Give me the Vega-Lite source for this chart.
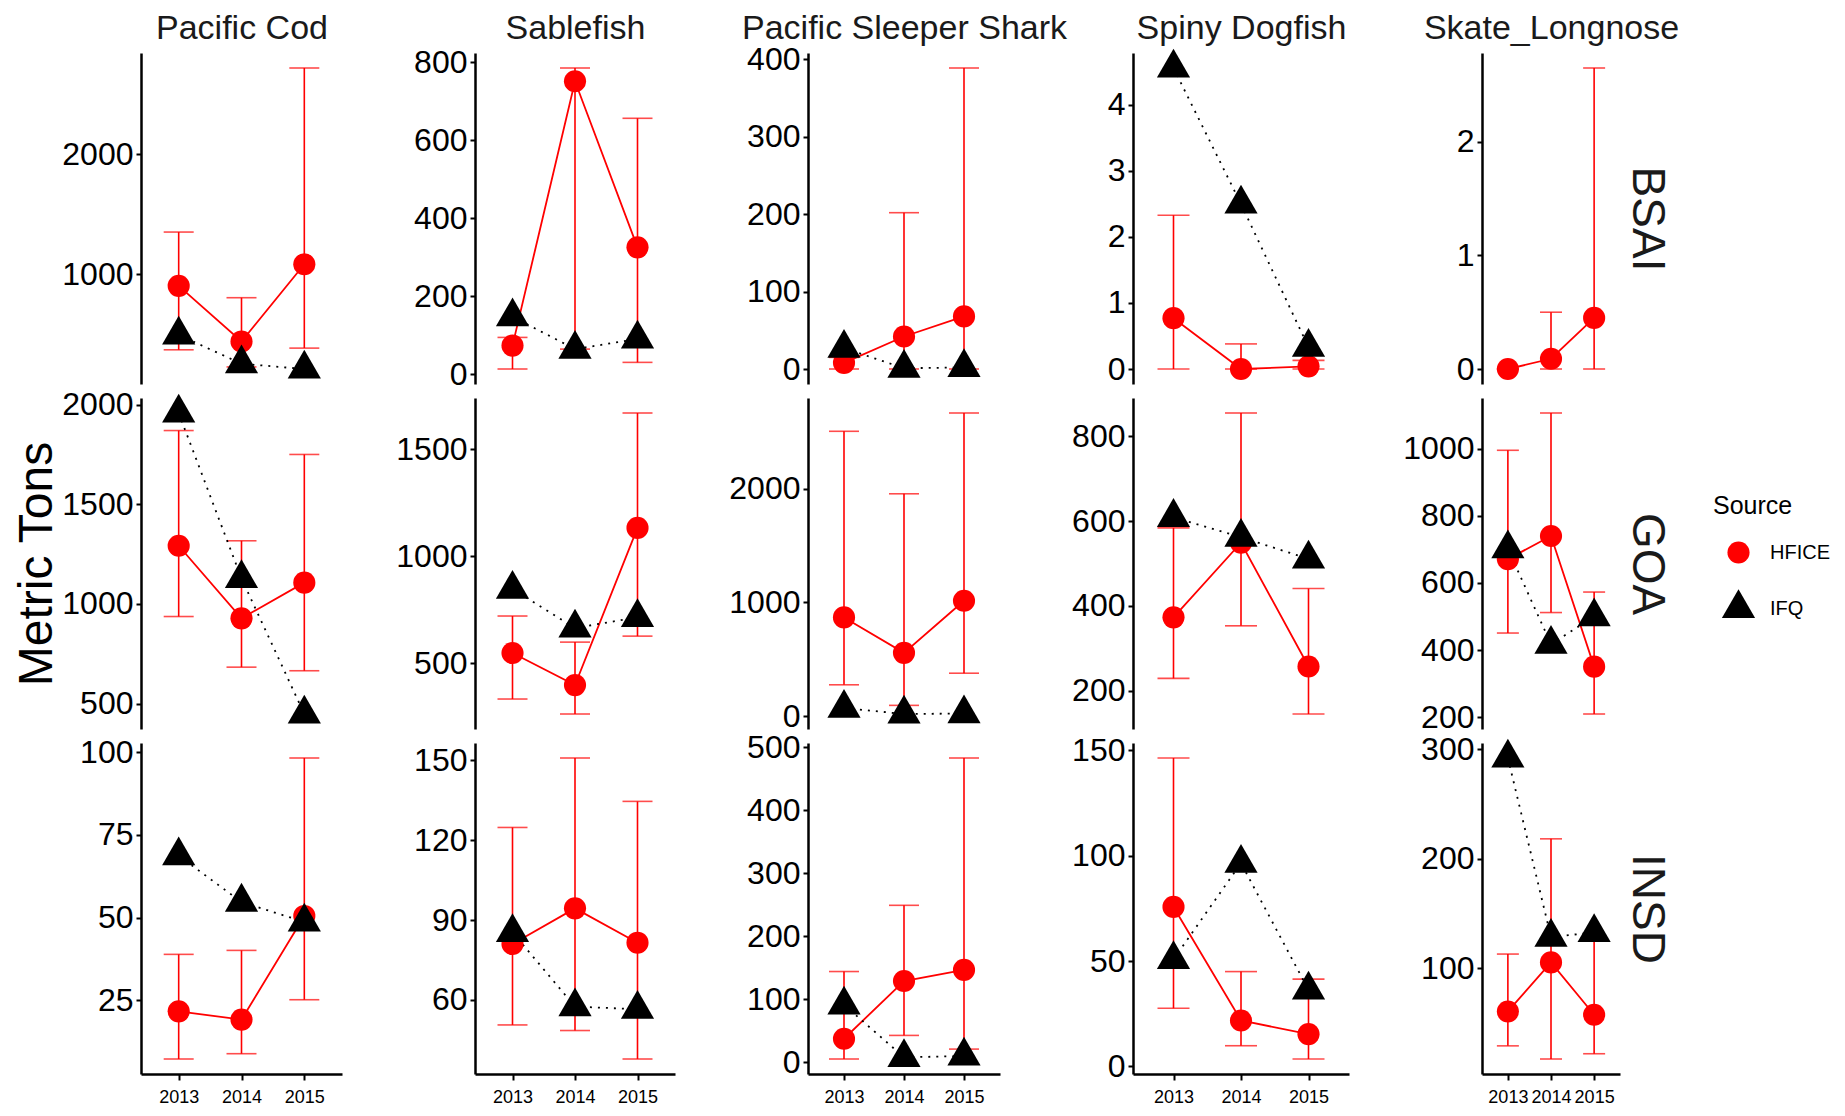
{
"$schema": "https://vega.github.io/schema/vega-lite/v6.json",
"background": "white",
"padding": {"left": 13, "top": 11, "right": 5, "bottom": 5},
"data": {"values": [
{"region":"BSAI","species":"Pacific Cod","year":"2013","source":"HFICE","value":903,"lower":370,"upper":1351},
{"region":"BSAI","species":"Pacific Cod","year":"2014","source":"HFICE","value":439,"lower":227,"upper":804},
{"region":"BSAI","species":"Pacific Cod","year":"2015","source":"HFICE","value":1083,"lower":384,"upper":2718},
{"region":"BSAI","species":"Pacific Cod","year":"2013","source":"IFQ","value":494},
{"region":"BSAI","species":"Pacific Cod","year":"2014","source":"IFQ","value":254},
{"region":"BSAI","species":"Pacific Cod","year":"2015","source":"IFQ","value":210},
{"region":"BSAI","species":"Sablefish","year":"2013","source":"HFICE","value":73,"lower":13,"upper":94},
{"region":"BSAI","species":"Sablefish","year":"2014","source":"HFICE","value":751,"lower":64,"upper":785},
{"region":"BSAI","species":"Sablefish","year":"2015","source":"HFICE","value":325,"lower":30,"upper":656},
{"region":"BSAI","species":"Sablefish","year":"2013","source":"IFQ","value":147},
{"region":"BSAI","species":"Sablefish","year":"2014","source":"IFQ","value":64},
{"region":"BSAI","species":"Sablefish","year":"2015","source":"IFQ","value":90},
{"region":"BSAI","species":"Pacific Sleeper Shark","year":"2013","source":"HFICE","value":8,"lower":0,"upper":15},
{"region":"BSAI","species":"Pacific Sleeper Shark","year":"2014","source":"HFICE","value":42,"lower":0,"upper":202},
{"region":"BSAI","species":"Pacific Sleeper Shark","year":"2015","source":"HFICE","value":68,"lower":0,"upper":389},
{"region":"BSAI","species":"Pacific Sleeper Shark","year":"2013","source":"IFQ","value":27},
{"region":"BSAI","species":"Pacific Sleeper Shark","year":"2014","source":"IFQ","value":1},
{"region":"BSAI","species":"Pacific Sleeper Shark","year":"2015","source":"IFQ","value":2},
{"region":"BSAI","species":"Spiny Dogfish","year":"2013","source":"HFICE","value":0.77,"lower":0,"upper":2.33},
{"region":"BSAI","species":"Spiny Dogfish","year":"2014","source":"HFICE","value":0,"lower":0,"upper":0.38},
{"region":"BSAI","species":"Spiny Dogfish","year":"2015","source":"HFICE","value":0.04,"lower":0,"upper":0.13},
{"region":"BSAI","species":"Spiny Dogfish","year":"2013","source":"IFQ","value":4.56},
{"region":"BSAI","species":"Spiny Dogfish","year":"2014","source":"IFQ","value":2.5},
{"region":"BSAI","species":"Spiny Dogfish","year":"2015","source":"IFQ","value":0.33},
{"region":"BSAI","species":"Skate_Longnose","year":"2013","source":"HFICE","value":0,"lower":0,"upper":0},
{"region":"BSAI","species":"Skate_Longnose","year":"2014","source":"HFICE","value":0.09,"lower":0,"upper":0.5},
{"region":"BSAI","species":"Skate_Longnose","year":"2015","source":"HFICE","value":0.45,"lower":0,"upper":2.65},
{"region":"GOA","species":"Pacific Cod","year":"2013","source":"HFICE","value":1292,"lower":937,"upper":1870},
{"region":"GOA","species":"Pacific Cod","year":"2014","source":"HFICE","value":928,"lower":683,"upper":1317},
{"region":"GOA","species":"Pacific Cod","year":"2015","source":"HFICE","value":1107,"lower":665,"upper":1750},
{"region":"GOA","species":"Pacific Cod","year":"2013","source":"IFQ","value":1958},
{"region":"GOA","species":"Pacific Cod","year":"2014","source":"IFQ","value":1128},
{"region":"GOA","species":"Pacific Cod","year":"2015","source":"IFQ","value":448},
{"region":"GOA","species":"Sablefish","year":"2013","source":"HFICE","value":547,"lower":332,"upper":720},
{"region":"GOA","species":"Sablefish","year":"2014","source":"HFICE","value":397,"lower":262,"upper":598},
{"region":"GOA","species":"Sablefish","year":"2015","source":"HFICE","value":1132,"lower":626,"upper":1669},
{"region":"GOA","species":"Sablefish","year":"2013","source":"IFQ","value":846},
{"region":"GOA","species":"Sablefish","year":"2014","source":"IFQ","value":664},
{"region":"GOA","species":"Sablefish","year":"2015","source":"IFQ","value":714},
{"region":"GOA","species":"Pacific Sleeper Shark","year":"2013","source":"HFICE","value":868,"lower":275,"upper":2506},
{"region":"GOA","species":"Pacific Sleeper Shark","year":"2014","source":"HFICE","value":556,"lower":94,"upper":1956},
{"region":"GOA","species":"Pacific Sleeper Shark","year":"2015","source":"HFICE","value":1015,"lower":377,"upper":2667},
{"region":"GOA","species":"Pacific Sleeper Shark","year":"2013","source":"IFQ","value":70},
{"region":"GOA","species":"Pacific Sleeper Shark","year":"2014","source":"IFQ","value":18},
{"region":"GOA","species":"Pacific Sleeper Shark","year":"2015","source":"IFQ","value":22},
{"region":"GOA","species":"Spiny Dogfish","year":"2013","source":"HFICE","value":373,"lower":229,"upper":584},
{"region":"GOA","species":"Spiny Dogfish","year":"2014","source":"HFICE","value":549,"lower":353,"upper":855},
{"region":"GOA","species":"Spiny Dogfish","year":"2015","source":"HFICE","value":257,"lower":145,"upper":441},
{"region":"GOA","species":"Spiny Dogfish","year":"2013","source":"IFQ","value":609},
{"region":"GOA","species":"Spiny Dogfish","year":"2014","source":"IFQ","value":562},
{"region":"GOA","species":"Spiny Dogfish","year":"2015","source":"IFQ","value":511},
{"region":"GOA","species":"Skate_Longnose","year":"2013","source":"HFICE","value":671,"lower":451,"upper":995},
{"region":"GOA","species":"Skate_Longnose","year":"2014","source":"HFICE","value":740,"lower":512,"upper":1106},
{"region":"GOA","species":"Skate_Longnose","year":"2015","source":"HFICE","value":351,"lower":210,"upper":573},
{"region":"GOA","species":"Skate_Longnose","year":"2013","source":"IFQ","value":702},
{"region":"GOA","species":"Skate_Longnose","year":"2014","source":"IFQ","value":418},
{"region":"GOA","species":"Skate_Longnose","year":"2015","source":"IFQ","value":500},
{"region":"INSD","species":"Pacific Cod","year":"2013","source":"HFICE","value":21.7,"lower":7.3,"upper":38.9},
{"region":"INSD","species":"Pacific Cod","year":"2014","source":"HFICE","value":19.2,"lower":8.9,"upper":40.1},
{"region":"INSD","species":"Pacific Cod","year":"2015","source":"HFICE","value":50.5,"lower":25.2,"upper":98.2},
{"region":"INSD","species":"Pacific Cod","year":"2013","source":"IFQ","value":68.7},
{"region":"INSD","species":"Pacific Cod","year":"2014","source":"IFQ","value":54.7},
{"region":"INSD","species":"Pacific Cod","year":"2015","source":"IFQ","value":48.7},
{"region":"INSD","species":"Sablefish","year":"2013","source":"HFICE","value":81,"lower":50.6,"upper":124.8},
{"region":"INSD","species":"Sablefish","year":"2014","source":"HFICE","value":94.4,"lower":48.5,"upper":150.9},
{"region":"INSD","species":"Sablefish","year":"2015","source":"HFICE","value":81.5,"lower":37.8,"upper":134.6},
{"region":"INSD","species":"Sablefish","year":"2013","source":"IFQ","value":85.4},
{"region":"INSD","species":"Sablefish","year":"2014","source":"IFQ","value":57.5},
{"region":"INSD","species":"Sablefish","year":"2015","source":"IFQ","value":56.5},
{"region":"INSD","species":"Pacific Sleeper Shark","year":"2013","source":"HFICE","value":37.4,"lower":5.3,"upper":144},
{"region":"INSD","species":"Pacific Sleeper Shark","year":"2014","source":"HFICE","value":129,"lower":42.7,"upper":249},
{"region":"INSD","species":"Pacific Sleeper Shark","year":"2015","source":"HFICE","value":146.6,"lower":21,"upper":482.6},
{"region":"INSD","species":"Pacific Sleeper Shark","year":"2013","source":"IFQ","value":91.2},
{"region":"INSD","species":"Pacific Sleeper Shark","year":"2014","source":"IFQ","value":8},
{"region":"INSD","species":"Pacific Sleeper Shark","year":"2015","source":"IFQ","value":10},
{"region":"INSD","species":"Spiny Dogfish","year":"2013","source":"HFICE","value":75.7,"lower":27.6,"upper":146.4},
{"region":"INSD","species":"Spiny Dogfish","year":"2014","source":"HFICE","value":21.8,"lower":9.8,"upper":45},
{"region":"INSD","species":"Spiny Dogfish","year":"2015","source":"HFICE","value":15.3,"lower":3.5,"upper":41.4},
{"region":"INSD","species":"Spiny Dogfish","year":"2013","source":"IFQ","value":50.8},
{"region":"INSD","species":"Spiny Dogfish","year":"2014","source":"IFQ","value":96.5},
{"region":"INSD","species":"Spiny Dogfish","year":"2015","source":"IFQ","value":36.3},
{"region":"INSD","species":"Skate_Longnose","year":"2013","source":"HFICE","value":60.4,"lower":29,"upper":112.8},
{"region":"INSD","species":"Skate_Longnose","year":"2014","source":"HFICE","value":105.2,"lower":17,"upper":218},
{"region":"INSD","species":"Skate_Longnose","year":"2015","source":"HFICE","value":57.4,"lower":21.8,"upper":125.9},
{"region":"INSD","species":"Skate_Longnose","year":"2013","source":"IFQ","value":291.8},
{"region":"INSD","species":"Skate_Longnose","year":"2014","source":"IFQ","value":128.3},
{"region":"INSD","species":"Skate_Longnose","year":"2015","source":"IFQ","value":132.6}
]},
"columns": 5,
"bounds": "flush",
"align": "each",
"spacing": {"row": 14, "column": 133},
"concat": [
{"width": 201, "height": 331,
 "transform": [{"filter": "datum.region == 'BSAI' && datum.species == 'Pacific Cod'"}],
 "encoding": {"x": {"field": "year", "type": "ordinal", "scale": {"type": "point", "padding": 0.6}, "axis": {"orient": "top", "title": "Pacific Cod", "labels": false, "ticks": false, "domain": false, "titleFontSize": 34, "titlePadding": 15, "titleBaseline": "alphabetic", "titleColor": "#1a1a1a"}}},
 "resolve": {"axis": {"y": "independent"}},
 "layer": [
  {"mark": {"type": "rule", "color": "#FF0000", "strokeWidth": 1.6}, "encoding": {"y": {"field": "lower", "type": "quantitative", "scale": {"zero": false, "nice": false, "padding": 15}, "axis": {"values": [1000, 2000], "title": null, "format": "d"}}, "y2": {"field": "upper"}}},
  {"mark": {"type": "tick", "color": "#FF0000", "thickness": 1.6, "size": 30}, "encoding": {"y": {"field": "lower", "type": "quantitative", "axis": null}}},
  {"mark": {"type": "tick", "color": "#FF0000", "thickness": 1.6, "size": 30}, "encoding": {"y": {"field": "upper", "type": "quantitative", "axis": null}}},
  {"transform": [{"filter": "datum.source == 'HFICE'"}], "mark": {"type": "line", "color": "#FF0000", "strokeWidth": 1.8}, "encoding": {"y": {"field": "value", "type": "quantitative", "axis": null}}},
  {"transform": [{"filter": "datum.source == 'IFQ'"}], "mark": {"type": "line", "color": "#000000", "strokeWidth": 1.8, "strokeDash": [2, 6]}, "encoding": {"y": {"field": "value", "type": "quantitative", "axis": null}}},
  {"mark": {"type": "point", "filled": true, "size": 490, "opacity": 1}, "encoding": {"y": {"field": "value", "type": "quantitative", "axis": null}, "color": {"field": "source", "type": "nominal", "title": "Source", "scale": {"domain": ["HFICE", "IFQ"], "range": ["#FF0000", "#000000"]}, "legend": {"orient": "none", "legendX": 1572, "legendY": 441}}, "shape": {"field": "source", "type": "nominal", "title": "Source", "scale": {"domain": ["HFICE", "IFQ"], "range": ["circle", "M0,-1.732L1.5,0.866L-1.5,0.866Z"]}, "legend": {"orient": "none", "legendX": 1572, "legendY": 441}}}}
 ]},
{"width": 200, "height": 331,
 "transform": [{"filter": "datum.region == 'BSAI' && datum.species == 'Sablefish'"}],
 "encoding": {"x": {"field": "year", "type": "ordinal", "scale": {"type": "point", "padding": 0.6}, "axis": {"orient": "top", "title": "Sablefish", "labels": false, "ticks": false, "domain": false, "titleFontSize": 34, "titlePadding": 15, "titleBaseline": "alphabetic", "titleColor": "#1a1a1a"}}},
 "resolve": {"axis": {"y": "independent"}},
 "layer": [
  {"mark": {"type": "rule", "color": "#FF0000", "strokeWidth": 1.6}, "encoding": {"y": {"field": "lower", "type": "quantitative", "scale": {"zero": false, "nice": false, "padding": 15}, "axis": {"values": [0, 200, 400, 600, 800], "title": null, "format": "d"}}, "y2": {"field": "upper"}}},
  {"mark": {"type": "tick", "color": "#FF0000", "thickness": 1.6, "size": 30}, "encoding": {"y": {"field": "lower", "type": "quantitative", "axis": null}}},
  {"mark": {"type": "tick", "color": "#FF0000", "thickness": 1.6, "size": 30}, "encoding": {"y": {"field": "upper", "type": "quantitative", "axis": null}}},
  {"transform": [{"filter": "datum.source == 'HFICE'"}], "mark": {"type": "line", "color": "#FF0000", "strokeWidth": 1.8}, "encoding": {"y": {"field": "value", "type": "quantitative", "axis": null}}},
  {"transform": [{"filter": "datum.source == 'IFQ'"}], "mark": {"type": "line", "color": "#000000", "strokeWidth": 1.8, "strokeDash": [2, 6]}, "encoding": {"y": {"field": "value", "type": "quantitative", "axis": null}}},
  {"mark": {"type": "point", "filled": true, "size": 490, "opacity": 1}, "encoding": {"y": {"field": "value", "type": "quantitative", "axis": null}, "color": {"field": "source", "type": "nominal", "title": "Source", "scale": {"domain": ["HFICE", "IFQ"], "range": ["#FF0000", "#000000"]}}, "shape": {"field": "source", "type": "nominal", "title": "Source", "scale": {"domain": ["HFICE", "IFQ"], "range": ["circle", "M0,-1.732L1.5,0.866L-1.5,0.866Z"]}}}}
 ]},
{"width": 192, "height": 331,
 "transform": [{"filter": "datum.region == 'BSAI' && datum.species == 'Pacific Sleeper Shark'"}],
 "encoding": {"x": {"field": "year", "type": "ordinal", "scale": {"type": "point", "padding": 0.6}, "axis": {"orient": "top", "title": "Pacific Sleeper Shark", "labels": false, "ticks": false, "domain": false, "titleFontSize": 34, "titlePadding": 15, "titleBaseline": "alphabetic", "titleColor": "#1a1a1a"}}},
 "resolve": {"axis": {"y": "independent"}},
 "layer": [
  {"mark": {"type": "rule", "color": "#FF0000", "strokeWidth": 1.6}, "encoding": {"y": {"field": "lower", "type": "quantitative", "scale": {"zero": false, "nice": false, "padding": 15}, "axis": {"values": [0, 100, 200, 300, 400], "title": null, "format": "d"}}, "y2": {"field": "upper"}}},
  {"mark": {"type": "tick", "color": "#FF0000", "thickness": 1.6, "size": 30}, "encoding": {"y": {"field": "lower", "type": "quantitative", "axis": null}}},
  {"mark": {"type": "tick", "color": "#FF0000", "thickness": 1.6, "size": 30}, "encoding": {"y": {"field": "upper", "type": "quantitative", "axis": null}}},
  {"transform": [{"filter": "datum.source == 'HFICE'"}], "mark": {"type": "line", "color": "#FF0000", "strokeWidth": 1.8}, "encoding": {"y": {"field": "value", "type": "quantitative", "axis": null}}},
  {"transform": [{"filter": "datum.source == 'IFQ'"}], "mark": {"type": "line", "color": "#000000", "strokeWidth": 1.8, "strokeDash": [2, 6]}, "encoding": {"y": {"field": "value", "type": "quantitative", "axis": null}}},
  {"mark": {"type": "point", "filled": true, "size": 490, "opacity": 1}, "encoding": {"y": {"field": "value", "type": "quantitative", "axis": null}, "color": {"field": "source", "type": "nominal", "title": "Source", "scale": {"domain": ["HFICE", "IFQ"], "range": ["#FF0000", "#000000"]}}, "shape": {"field": "source", "type": "nominal", "title": "Source", "scale": {"domain": ["HFICE", "IFQ"], "range": ["circle", "M0,-1.732L1.5,0.866L-1.5,0.866Z"]}}}}
 ]},
{"width": 216, "height": 331,
 "transform": [{"filter": "datum.region == 'BSAI' && datum.species == 'Spiny Dogfish'"}],
 "encoding": {"x": {"field": "year", "type": "ordinal", "scale": {"type": "point", "padding": 0.6}, "axis": {"orient": "top", "title": "Spiny Dogfish", "labels": false, "ticks": false, "domain": false, "titleFontSize": 34, "titlePadding": 15, "titleBaseline": "alphabetic", "titleColor": "#1a1a1a"}}},
 "resolve": {"axis": {"y": "independent"}},
 "layer": [
  {"mark": {"type": "rule", "color": "#FF0000", "strokeWidth": 1.6}, "encoding": {"y": {"field": "lower", "type": "quantitative", "scale": {"zero": false, "nice": false, "padding": 15}, "axis": {"values": [0, 1, 2, 3, 4], "title": null, "format": "d"}}, "y2": {"field": "upper"}}},
  {"mark": {"type": "tick", "color": "#FF0000", "thickness": 1.6, "size": 32}, "encoding": {"y": {"field": "lower", "type": "quantitative", "axis": null}}},
  {"mark": {"type": "tick", "color": "#FF0000", "thickness": 1.6, "size": 32}, "encoding": {"y": {"field": "upper", "type": "quantitative", "axis": null}}},
  {"transform": [{"filter": "datum.source == 'HFICE'"}], "mark": {"type": "line", "color": "#FF0000", "strokeWidth": 1.8}, "encoding": {"y": {"field": "value", "type": "quantitative", "axis": null}}},
  {"transform": [{"filter": "datum.source == 'IFQ'"}], "mark": {"type": "line", "color": "#000000", "strokeWidth": 1.8, "strokeDash": [2, 6]}, "encoding": {"y": {"field": "value", "type": "quantitative", "axis": null}}},
  {"mark": {"type": "point", "filled": true, "size": 490, "opacity": 1}, "encoding": {"y": {"field": "value", "type": "quantitative", "axis": null}, "color": {"field": "source", "type": "nominal", "title": "Source", "scale": {"domain": ["HFICE", "IFQ"], "range": ["#FF0000", "#000000"]}}, "shape": {"field": "source", "type": "nominal", "title": "Source", "scale": {"domain": ["HFICE", "IFQ"], "range": ["circle", "M0,-1.732L1.5,0.866L-1.5,0.866Z"]}}}}
 ]},
{"width": 138, "height": 331,
 "transform": [{"filter": "datum.region == 'BSAI' && datum.species == 'Skate_Longnose'"}],
 "encoding": {"x": {"field": "year", "type": "ordinal", "scale": {"type": "point", "padding": 0.6}, "axis": {"orient": "top", "title": "Skate_Longnose", "labels": false, "ticks": false, "domain": false, "titleFontSize": 34, "titlePadding": 15, "titleBaseline": "alphabetic", "titleColor": "#1a1a1a"}}},
 "resolve": {"axis": {"y": "independent"}},
 "layer": [
  {"mark": {"type": "rule", "color": "#FF0000", "strokeWidth": 1.6}, "encoding": {"y": {"field": "lower", "type": "quantitative", "scale": {"zero": false, "nice": false, "padding": 15}, "axis": {"values": [0, 1, 2], "title": null, "format": "d"}}, "y2": {"field": "upper"}}},
  {"mark": {"type": "tick", "color": "#FF0000", "thickness": 1.6, "size": 22}, "encoding": {"y": {"field": "lower", "type": "quantitative", "axis": {"orient": "right", "title": "BSAI", "labels": false, "ticks": false, "domain": false, "titleFontSize": 46, "titlePadding": 2, "titleColor": "#1a1a1a"}}}},
  {"mark": {"type": "tick", "color": "#FF0000", "thickness": 1.6, "size": 22}, "encoding": {"y": {"field": "upper", "type": "quantitative", "axis": null}}},
  {"transform": [{"filter": "datum.source == 'HFICE'"}], "mark": {"type": "line", "color": "#FF0000", "strokeWidth": 1.8}, "encoding": {"y": {"field": "value", "type": "quantitative", "axis": null}}},
  {"transform": [{"filter": "datum.source == 'IFQ'"}], "mark": {"type": "line", "color": "#000000", "strokeWidth": 1.8, "strokeDash": [2, 6]}, "encoding": {"y": {"field": "value", "type": "quantitative", "axis": null}}},
  {"mark": {"type": "point", "filled": true, "size": 490, "opacity": 1}, "encoding": {"y": {"field": "value", "type": "quantitative", "axis": null}, "color": {"field": "source", "type": "nominal", "title": "Source", "scale": {"domain": ["HFICE", "IFQ"], "range": ["#FF0000", "#000000"]}}, "shape": {"field": "source", "type": "nominal", "title": "Source", "scale": {"domain": ["HFICE", "IFQ"], "range": ["circle", "M0,-1.732L1.5,0.866L-1.5,0.866Z"]}}}}
 ]},
{"width": 201, "height": 331,
 "transform": [{"filter": "datum.region == 'GOA' && datum.species == 'Pacific Cod'"}],
 "encoding": {"x": {"field": "year", "type": "ordinal", "scale": {"type": "point", "padding": 0.6}, "axis": null}},
 "resolve": {"axis": {"y": "independent"}},
 "layer": [
  {"mark": {"type": "rule", "color": "#FF0000", "strokeWidth": 1.6}, "encoding": {"y": {"field": "lower", "type": "quantitative", "scale": {"zero": false, "nice": false, "padding": 15}, "axis": {"values": [500, 1000, 1500, 2000], "format": "d", "title": "Metric Tons", "titleFontSize": 48, "titlePadding": 0}}, "y2": {"field": "upper"}}},
  {"mark": {"type": "tick", "color": "#FF0000", "thickness": 1.6, "size": 30}, "encoding": {"y": {"field": "lower", "type": "quantitative", "axis": null}}},
  {"mark": {"type": "tick", "color": "#FF0000", "thickness": 1.6, "size": 30}, "encoding": {"y": {"field": "upper", "type": "quantitative", "axis": null}}},
  {"transform": [{"filter": "datum.source == 'HFICE'"}], "mark": {"type": "line", "color": "#FF0000", "strokeWidth": 1.8}, "encoding": {"y": {"field": "value", "type": "quantitative", "axis": null}}},
  {"transform": [{"filter": "datum.source == 'IFQ'"}], "mark": {"type": "line", "color": "#000000", "strokeWidth": 1.8, "strokeDash": [2, 6]}, "encoding": {"y": {"field": "value", "type": "quantitative", "axis": null}}},
  {"mark": {"type": "point", "filled": true, "size": 490, "opacity": 1}, "encoding": {"y": {"field": "value", "type": "quantitative", "axis": null}, "color": {"field": "source", "type": "nominal", "title": "Source", "scale": {"domain": ["HFICE", "IFQ"], "range": ["#FF0000", "#000000"]}}, "shape": {"field": "source", "type": "nominal", "title": "Source", "scale": {"domain": ["HFICE", "IFQ"], "range": ["circle", "M0,-1.732L1.5,0.866L-1.5,0.866Z"]}}}}
 ]},
{"width": 200, "height": 331,
 "transform": [{"filter": "datum.region == 'GOA' && datum.species == 'Sablefish'"}],
 "encoding": {"x": {"field": "year", "type": "ordinal", "scale": {"type": "point", "padding": 0.6}, "axis": null}},
 "resolve": {"axis": {"y": "independent"}},
 "layer": [
  {"mark": {"type": "rule", "color": "#FF0000", "strokeWidth": 1.6}, "encoding": {"y": {"field": "lower", "type": "quantitative", "scale": {"zero": false, "nice": false, "padding": 15}, "axis": {"values": [500, 1000, 1500], "title": null, "format": "d"}}, "y2": {"field": "upper"}}},
  {"mark": {"type": "tick", "color": "#FF0000", "thickness": 1.6, "size": 30}, "encoding": {"y": {"field": "lower", "type": "quantitative", "axis": null}}},
  {"mark": {"type": "tick", "color": "#FF0000", "thickness": 1.6, "size": 30}, "encoding": {"y": {"field": "upper", "type": "quantitative", "axis": null}}},
  {"transform": [{"filter": "datum.source == 'HFICE'"}], "mark": {"type": "line", "color": "#FF0000", "strokeWidth": 1.8}, "encoding": {"y": {"field": "value", "type": "quantitative", "axis": null}}},
  {"transform": [{"filter": "datum.source == 'IFQ'"}], "mark": {"type": "line", "color": "#000000", "strokeWidth": 1.8, "strokeDash": [2, 6]}, "encoding": {"y": {"field": "value", "type": "quantitative", "axis": null}}},
  {"mark": {"type": "point", "filled": true, "size": 490, "opacity": 1}, "encoding": {"y": {"field": "value", "type": "quantitative", "axis": null}, "color": {"field": "source", "type": "nominal", "title": "Source", "scale": {"domain": ["HFICE", "IFQ"], "range": ["#FF0000", "#000000"]}}, "shape": {"field": "source", "type": "nominal", "title": "Source", "scale": {"domain": ["HFICE", "IFQ"], "range": ["circle", "M0,-1.732L1.5,0.866L-1.5,0.866Z"]}}}}
 ]},
{"width": 192, "height": 331,
 "transform": [{"filter": "datum.region == 'GOA' && datum.species == 'Pacific Sleeper Shark'"}],
 "encoding": {"x": {"field": "year", "type": "ordinal", "scale": {"type": "point", "padding": 0.6}, "axis": null}},
 "resolve": {"axis": {"y": "independent"}},
 "layer": [
  {"mark": {"type": "rule", "color": "#FF0000", "strokeWidth": 1.6}, "encoding": {"y": {"field": "lower", "type": "quantitative", "scale": {"zero": false, "nice": false, "padding": 15}, "axis": {"values": [0, 1000, 2000], "title": null, "format": "d"}}, "y2": {"field": "upper"}}},
  {"mark": {"type": "tick", "color": "#FF0000", "thickness": 1.6, "size": 30}, "encoding": {"y": {"field": "lower", "type": "quantitative", "axis": null}}},
  {"mark": {"type": "tick", "color": "#FF0000", "thickness": 1.6, "size": 30}, "encoding": {"y": {"field": "upper", "type": "quantitative", "axis": null}}},
  {"transform": [{"filter": "datum.source == 'HFICE'"}], "mark": {"type": "line", "color": "#FF0000", "strokeWidth": 1.8}, "encoding": {"y": {"field": "value", "type": "quantitative", "axis": null}}},
  {"transform": [{"filter": "datum.source == 'IFQ'"}], "mark": {"type": "line", "color": "#000000", "strokeWidth": 1.8, "strokeDash": [2, 6]}, "encoding": {"y": {"field": "value", "type": "quantitative", "axis": null}}},
  {"mark": {"type": "point", "filled": true, "size": 490, "opacity": 1}, "encoding": {"y": {"field": "value", "type": "quantitative", "axis": null}, "color": {"field": "source", "type": "nominal", "title": "Source", "scale": {"domain": ["HFICE", "IFQ"], "range": ["#FF0000", "#000000"]}}, "shape": {"field": "source", "type": "nominal", "title": "Source", "scale": {"domain": ["HFICE", "IFQ"], "range": ["circle", "M0,-1.732L1.5,0.866L-1.5,0.866Z"]}}}}
 ]},
{"width": 216, "height": 331,
 "transform": [{"filter": "datum.region == 'GOA' && datum.species == 'Spiny Dogfish'"}],
 "encoding": {"x": {"field": "year", "type": "ordinal", "scale": {"type": "point", "padding": 0.6}, "axis": null}},
 "resolve": {"axis": {"y": "independent"}},
 "layer": [
  {"mark": {"type": "rule", "color": "#FF0000", "strokeWidth": 1.6}, "encoding": {"y": {"field": "lower", "type": "quantitative", "scale": {"zero": false, "nice": false, "padding": 15}, "axis": {"values": [200, 400, 600, 800], "title": null, "format": "d"}}, "y2": {"field": "upper"}}},
  {"mark": {"type": "tick", "color": "#FF0000", "thickness": 1.6, "size": 32}, "encoding": {"y": {"field": "lower", "type": "quantitative", "axis": null}}},
  {"mark": {"type": "tick", "color": "#FF0000", "thickness": 1.6, "size": 32}, "encoding": {"y": {"field": "upper", "type": "quantitative", "axis": null}}},
  {"transform": [{"filter": "datum.source == 'HFICE'"}], "mark": {"type": "line", "color": "#FF0000", "strokeWidth": 1.8}, "encoding": {"y": {"field": "value", "type": "quantitative", "axis": null}}},
  {"transform": [{"filter": "datum.source == 'IFQ'"}], "mark": {"type": "line", "color": "#000000", "strokeWidth": 1.8, "strokeDash": [2, 6]}, "encoding": {"y": {"field": "value", "type": "quantitative", "axis": null}}},
  {"mark": {"type": "point", "filled": true, "size": 490, "opacity": 1}, "encoding": {"y": {"field": "value", "type": "quantitative", "axis": null}, "color": {"field": "source", "type": "nominal", "title": "Source", "scale": {"domain": ["HFICE", "IFQ"], "range": ["#FF0000", "#000000"]}}, "shape": {"field": "source", "type": "nominal", "title": "Source", "scale": {"domain": ["HFICE", "IFQ"], "range": ["circle", "M0,-1.732L1.5,0.866L-1.5,0.866Z"]}}}}
 ]},
{"width": 138, "height": 331,
 "transform": [{"filter": "datum.region == 'GOA' && datum.species == 'Skate_Longnose'"}],
 "encoding": {"x": {"field": "year", "type": "ordinal", "scale": {"type": "point", "padding": 0.6}, "axis": null}},
 "resolve": {"axis": {"y": "independent"}},
 "layer": [
  {"mark": {"type": "rule", "color": "#FF0000", "strokeWidth": 1.6}, "encoding": {"y": {"field": "lower", "type": "quantitative", "scale": {"zero": false, "nice": false, "padding": 15}, "axis": {"values": [200, 400, 600, 800, 1000], "title": null, "format": "d"}}, "y2": {"field": "upper"}}},
  {"mark": {"type": "tick", "color": "#FF0000", "thickness": 1.6, "size": 22}, "encoding": {"y": {"field": "lower", "type": "quantitative", "axis": {"orient": "right", "title": "GOA", "labels": false, "ticks": false, "domain": false, "titleFontSize": 46, "titlePadding": 2, "titleColor": "#1a1a1a"}}}},
  {"mark": {"type": "tick", "color": "#FF0000", "thickness": 1.6, "size": 22}, "encoding": {"y": {"field": "upper", "type": "quantitative", "axis": null}}},
  {"transform": [{"filter": "datum.source == 'HFICE'"}], "mark": {"type": "line", "color": "#FF0000", "strokeWidth": 1.8}, "encoding": {"y": {"field": "value", "type": "quantitative", "axis": null}}},
  {"transform": [{"filter": "datum.source == 'IFQ'"}], "mark": {"type": "line", "color": "#000000", "strokeWidth": 1.8, "strokeDash": [2, 6]}, "encoding": {"y": {"field": "value", "type": "quantitative", "axis": null}}},
  {"mark": {"type": "point", "filled": true, "size": 490, "opacity": 1}, "encoding": {"y": {"field": "value", "type": "quantitative", "axis": null}, "color": {"field": "source", "type": "nominal", "title": "Source", "scale": {"domain": ["HFICE", "IFQ"], "range": ["#FF0000", "#000000"]}}, "shape": {"field": "source", "type": "nominal", "title": "Source", "scale": {"domain": ["HFICE", "IFQ"], "range": ["circle", "M0,-1.732L1.5,0.866L-1.5,0.866Z"]}}}}
 ]},
{"width": 201, "height": 331,
 "transform": [{"filter": "datum.region == 'INSD' && datum.species == 'Pacific Cod'"}],
 "encoding": {"x": {"field": "year", "type": "ordinal", "scale": {"type": "point", "padding": 0.6}, "axis": {"title": null, "labelAngle": 0, "labelOverlap": false, "labelFontSize": 18, "tickSize": 6, "labelPadding": 8}}},
 "resolve": {"axis": {"y": "independent"}},
 "layer": [
  {"mark": {"type": "rule", "color": "#FF0000", "strokeWidth": 1.6}, "encoding": {"y": {"field": "lower", "type": "quantitative", "scale": {"zero": false, "nice": false, "padding": 15}, "axis": {"values": [25, 50, 75, 100], "title": null, "format": "d"}}, "y2": {"field": "upper"}}},
  {"mark": {"type": "tick", "color": "#FF0000", "thickness": 1.6, "size": 30}, "encoding": {"y": {"field": "lower", "type": "quantitative", "axis": null}}},
  {"mark": {"type": "tick", "color": "#FF0000", "thickness": 1.6, "size": 30}, "encoding": {"y": {"field": "upper", "type": "quantitative", "axis": null}}},
  {"transform": [{"filter": "datum.source == 'HFICE'"}], "mark": {"type": "line", "color": "#FF0000", "strokeWidth": 1.8}, "encoding": {"y": {"field": "value", "type": "quantitative", "axis": null}}},
  {"transform": [{"filter": "datum.source == 'IFQ'"}], "mark": {"type": "line", "color": "#000000", "strokeWidth": 1.8, "strokeDash": [2, 6]}, "encoding": {"y": {"field": "value", "type": "quantitative", "axis": null}}},
  {"mark": {"type": "point", "filled": true, "size": 490, "opacity": 1}, "encoding": {"y": {"field": "value", "type": "quantitative", "axis": null}, "color": {"field": "source", "type": "nominal", "title": "Source", "scale": {"domain": ["HFICE", "IFQ"], "range": ["#FF0000", "#000000"]}}, "shape": {"field": "source", "type": "nominal", "title": "Source", "scale": {"domain": ["HFICE", "IFQ"], "range": ["circle", "M0,-1.732L1.5,0.866L-1.5,0.866Z"]}}}}
 ]},
{"width": 200, "height": 331,
 "transform": [{"filter": "datum.region == 'INSD' && datum.species == 'Sablefish'"}],
 "encoding": {"x": {"field": "year", "type": "ordinal", "scale": {"type": "point", "padding": 0.6}, "axis": {"title": null, "labelAngle": 0, "labelOverlap": false, "labelFontSize": 18, "tickSize": 6, "labelPadding": 8}}},
 "resolve": {"axis": {"y": "independent"}},
 "layer": [
  {"mark": {"type": "rule", "color": "#FF0000", "strokeWidth": 1.6}, "encoding": {"y": {"field": "lower", "type": "quantitative", "scale": {"zero": false, "nice": false, "padding": 15}, "axis": {"values": [60, 90, 120, 150], "title": null, "format": "d"}}, "y2": {"field": "upper"}}},
  {"mark": {"type": "tick", "color": "#FF0000", "thickness": 1.6, "size": 30}, "encoding": {"y": {"field": "lower", "type": "quantitative", "axis": null}}},
  {"mark": {"type": "tick", "color": "#FF0000", "thickness": 1.6, "size": 30}, "encoding": {"y": {"field": "upper", "type": "quantitative", "axis": null}}},
  {"transform": [{"filter": "datum.source == 'HFICE'"}], "mark": {"type": "line", "color": "#FF0000", "strokeWidth": 1.8}, "encoding": {"y": {"field": "value", "type": "quantitative", "axis": null}}},
  {"transform": [{"filter": "datum.source == 'IFQ'"}], "mark": {"type": "line", "color": "#000000", "strokeWidth": 1.8, "strokeDash": [2, 6]}, "encoding": {"y": {"field": "value", "type": "quantitative", "axis": null}}},
  {"mark": {"type": "point", "filled": true, "size": 490, "opacity": 1}, "encoding": {"y": {"field": "value", "type": "quantitative", "axis": null}, "color": {"field": "source", "type": "nominal", "title": "Source", "scale": {"domain": ["HFICE", "IFQ"], "range": ["#FF0000", "#000000"]}}, "shape": {"field": "source", "type": "nominal", "title": "Source", "scale": {"domain": ["HFICE", "IFQ"], "range": ["circle", "M0,-1.732L1.5,0.866L-1.5,0.866Z"]}}}}
 ]},
{"width": 192, "height": 331,
 "transform": [{"filter": "datum.region == 'INSD' && datum.species == 'Pacific Sleeper Shark'"}],
 "encoding": {"x": {"field": "year", "type": "ordinal", "scale": {"type": "point", "padding": 0.6}, "axis": {"title": null, "labelAngle": 0, "labelOverlap": false, "labelFontSize": 18, "tickSize": 6, "labelPadding": 8}}},
 "resolve": {"axis": {"y": "independent"}},
 "layer": [
  {"mark": {"type": "rule", "color": "#FF0000", "strokeWidth": 1.6}, "encoding": {"y": {"field": "lower", "type": "quantitative", "scale": {"zero": false, "nice": false, "padding": 15}, "axis": {"values": [0, 100, 200, 300, 400, 500], "title": null, "format": "d"}}, "y2": {"field": "upper"}}},
  {"mark": {"type": "tick", "color": "#FF0000", "thickness": 1.6, "size": 30}, "encoding": {"y": {"field": "lower", "type": "quantitative", "axis": null}}},
  {"mark": {"type": "tick", "color": "#FF0000", "thickness": 1.6, "size": 30}, "encoding": {"y": {"field": "upper", "type": "quantitative", "axis": null}}},
  {"transform": [{"filter": "datum.source == 'HFICE'"}], "mark": {"type": "line", "color": "#FF0000", "strokeWidth": 1.8}, "encoding": {"y": {"field": "value", "type": "quantitative", "axis": null}}},
  {"transform": [{"filter": "datum.source == 'IFQ'"}], "mark": {"type": "line", "color": "#000000", "strokeWidth": 1.8, "strokeDash": [2, 6]}, "encoding": {"y": {"field": "value", "type": "quantitative", "axis": null}}},
  {"mark": {"type": "point", "filled": true, "size": 490, "opacity": 1}, "encoding": {"y": {"field": "value", "type": "quantitative", "axis": null}, "color": {"field": "source", "type": "nominal", "title": "Source", "scale": {"domain": ["HFICE", "IFQ"], "range": ["#FF0000", "#000000"]}}, "shape": {"field": "source", "type": "nominal", "title": "Source", "scale": {"domain": ["HFICE", "IFQ"], "range": ["circle", "M0,-1.732L1.5,0.866L-1.5,0.866Z"]}}}}
 ]},
{"width": 216, "height": 331,
 "transform": [{"filter": "datum.region == 'INSD' && datum.species == 'Spiny Dogfish'"}],
 "encoding": {"x": {"field": "year", "type": "ordinal", "scale": {"type": "point", "padding": 0.6}, "axis": {"title": null, "labelAngle": 0, "labelOverlap": false, "labelFontSize": 18, "tickSize": 6, "labelPadding": 8}}},
 "resolve": {"axis": {"y": "independent"}},
 "layer": [
  {"mark": {"type": "rule", "color": "#FF0000", "strokeWidth": 1.6}, "encoding": {"y": {"field": "lower", "type": "quantitative", "scale": {"zero": false, "nice": false, "padding": 15}, "axis": {"values": [0, 50, 100, 150], "title": null, "format": "d"}}, "y2": {"field": "upper"}}},
  {"mark": {"type": "tick", "color": "#FF0000", "thickness": 1.6, "size": 32}, "encoding": {"y": {"field": "lower", "type": "quantitative", "axis": null}}},
  {"mark": {"type": "tick", "color": "#FF0000", "thickness": 1.6, "size": 32}, "encoding": {"y": {"field": "upper", "type": "quantitative", "axis": null}}},
  {"transform": [{"filter": "datum.source == 'HFICE'"}], "mark": {"type": "line", "color": "#FF0000", "strokeWidth": 1.8}, "encoding": {"y": {"field": "value", "type": "quantitative", "axis": null}}},
  {"transform": [{"filter": "datum.source == 'IFQ'"}], "mark": {"type": "line", "color": "#000000", "strokeWidth": 1.8, "strokeDash": [2, 6]}, "encoding": {"y": {"field": "value", "type": "quantitative", "axis": null}}},
  {"mark": {"type": "point", "filled": true, "size": 490, "opacity": 1}, "encoding": {"y": {"field": "value", "type": "quantitative", "axis": null}, "color": {"field": "source", "type": "nominal", "title": "Source", "scale": {"domain": ["HFICE", "IFQ"], "range": ["#FF0000", "#000000"]}}, "shape": {"field": "source", "type": "nominal", "title": "Source", "scale": {"domain": ["HFICE", "IFQ"], "range": ["circle", "M0,-1.732L1.5,0.866L-1.5,0.866Z"]}}}}
 ]},
{"width": 138, "height": 331,
 "transform": [{"filter": "datum.region == 'INSD' && datum.species == 'Skate_Longnose'"}],
 "encoding": {"x": {"field": "year", "type": "ordinal", "scale": {"type": "point", "padding": 0.6}, "axis": {"title": null, "labelAngle": 0, "labelOverlap": false, "labelFontSize": 18, "tickSize": 6, "labelPadding": 8}}},
 "resolve": {"axis": {"y": "independent"}},
 "layer": [
  {"mark": {"type": "rule", "color": "#FF0000", "strokeWidth": 1.6}, "encoding": {"y": {"field": "lower", "type": "quantitative", "scale": {"zero": false, "nice": false, "padding": 15}, "axis": {"values": [100, 200, 300], "title": null, "format": "d"}}, "y2": {"field": "upper"}}},
  {"mark": {"type": "tick", "color": "#FF0000", "thickness": 1.6, "size": 22}, "encoding": {"y": {"field": "lower", "type": "quantitative", "axis": {"orient": "right", "title": "INSD", "labels": false, "ticks": false, "domain": false, "titleFontSize": 46, "titlePadding": 2, "titleColor": "#1a1a1a"}}}},
  {"mark": {"type": "tick", "color": "#FF0000", "thickness": 1.6, "size": 22}, "encoding": {"y": {"field": "upper", "type": "quantitative", "axis": null}}},
  {"transform": [{"filter": "datum.source == 'HFICE'"}], "mark": {"type": "line", "color": "#FF0000", "strokeWidth": 1.8}, "encoding": {"y": {"field": "value", "type": "quantitative", "axis": null}}},
  {"transform": [{"filter": "datum.source == 'IFQ'"}], "mark": {"type": "line", "color": "#000000", "strokeWidth": 1.8, "strokeDash": [2, 6]}, "encoding": {"y": {"field": "value", "type": "quantitative", "axis": null}}},
  {"mark": {"type": "point", "filled": true, "size": 490, "opacity": 1}, "encoding": {"y": {"field": "value", "type": "quantitative", "axis": null}, "color": {"field": "source", "type": "nominal", "title": "Source", "scale": {"domain": ["HFICE", "IFQ"], "range": ["#FF0000", "#000000"]}}, "shape": {"field": "source", "type": "nominal", "title": "Source", "scale": {"domain": ["HFICE", "IFQ"], "range": ["circle", "M0,-1.732L1.5,0.866L-1.5,0.866Z"]}}}}
 ]}
],
"config": {
 "view": {"stroke": null},
 "font": "Liberation Sans",
 "axis": {"domainColor": "#000000", "domainWidth": 2.5, "tickColor": "#000000", "tickWidth": 2, "tickSize": 5, "labelFont": "Liberation Sans", "labelFontSize": 32, "labelColor": "#000000", "labelPadding": 3, "grid": false, "titleFont": "Liberation Sans", "titleFontWeight": "normal", "titleColor": "#000000"},
 "legend": {"titleFont": "Liberation Sans", "titleFontSize": 25, "titleFontWeight": "normal", "titleColor": "#000000", "labelFont": "Liberation Sans", "labelFontSize": 20, "labelColor": "#000000", "symbolSize": 490, "symbolStrokeWidth": 0, "rowPadding": 25, "titlePadding": 22, "symbolOffset": 14, "labelOffset": 20, "padding": 0}
}
}
